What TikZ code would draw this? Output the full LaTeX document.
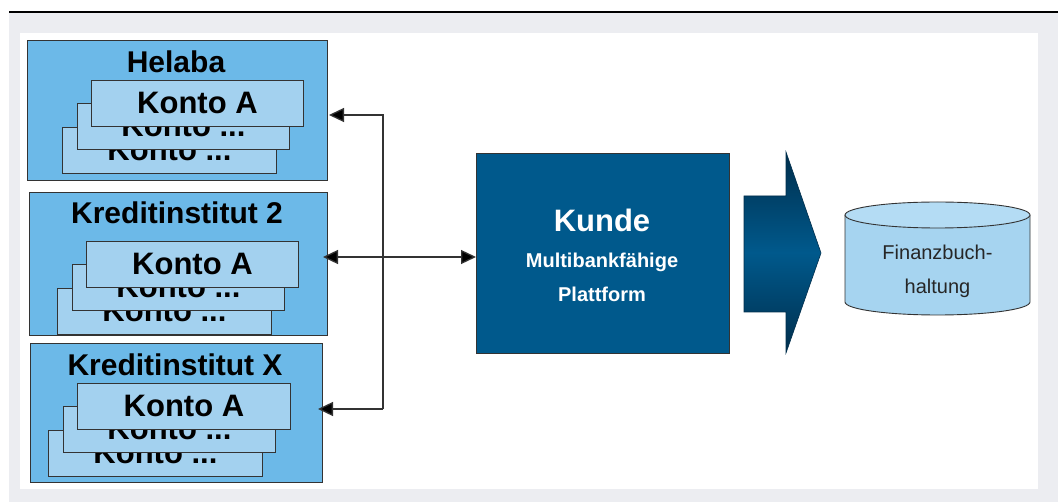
\documentclass[tikz,border=0pt]{standalone}
\usepackage{fontspec}
\setmainfont{Liberation Sans}
\usetikzlibrary{arrows.meta,shapes.geometric}
\definecolor{bggray}{HTML}{ECEDF1}
\definecolor{outerblue}{HTML}{6CB9E8}
\definecolor{kontoblue}{HTML}{A3D1EF}
\definecolor{kundeblue}{HTML}{00598C}
\definecolor{cylblue}{HTML}{A6D4F0}
\definecolor{cyltop}{HTML}{B4DCF4}
\definecolor{edge}{HTML}{333333}
\definecolor{linegray}{HTML}{333333}
\definecolor{arrowdark}{HTML}{002E4C}
\tikzset{
  bankbox/.style={draw=edge, line width=0.9pt, fill=outerblue},
  kontobox/.style={draw=edge, line width=0.9pt, fill=kontoblue, font=\bfseries\fontsize{31}{32}\selectfont, inner sep=0pt},
  banktitle/.style={font=\bfseries\fontsize{30}{32}\selectfont, inner sep=0pt},
  conn/.style={draw=linegray, line width=1.3pt},
  tipend/.style={-{Triangle[length=15pt,width=14pt,fill=black]}},
}
\newcommand{\kontostack}[4]{% prefix, x of front left, y of front top, width
  \node[kontobox, minimum width=214pt, minimum height=46pt, anchor=north west] (#1k3) at (#2-29,#3+47) {\raisebox{-16pt}{Konto ...}};
  \node[kontobox, minimum width=212pt, minimum height=46pt, anchor=north west] (#1k2) at (#2-14,#3+23) {\raisebox{-16pt}{Konto ...}};
  \node[kontobox, minimum width=#4pt, minimum height=46pt, anchor=north west] (#1k1) at (#2,#3) {Konto A};
}
\begin{document}
\begin{tikzpicture}[x=1pt,y=-1pt]
\useasboundingbox (0,0) rectangle (1058,502);
% background frame
\fill[bggray] (9,13) rectangle (1058,502);
\fill[white] (20,33) rectangle (1038,489);
\draw[black, line width=1.2pt] (9,12) -- (1058,12);

% Helaba
\node[bankbox, minimum width=300pt, minimum height=140pt, anchor=north west, inner sep=0pt] (b1) at (27,40) {};
\node[banktitle] (t1) at (176,62) {Helaba};
\begin{scope}
\clip (27,40) rectangle (327,180);
\kontostack{a}{91}{80}{212}
\end{scope}

% Kreditinstitut 2
\node[bankbox, minimum width=298pt, minimum height=143pt, anchor=north west, inner sep=0pt] (b2) at (29,192) {};
\node[banktitle] (t2) at (177,213) {Kreditinstitut 2};
\begin{scope}
\clip (29,192) rectangle (327,335);
\kontostack{b}{86}{241}{212}
\end{scope}

% Kreditinstitut X
\node[bankbox, minimum width=292pt, minimum height=139pt, anchor=north west, inner sep=0pt] (b3) at (30,343) {};
\node[banktitle] (t3) at (175,365) {Kreditinstitut X};
\begin{scope}
\clip (30,343) rectangle (322,482);
\kontostack{c}{77}{383}{213}
\end{scope}

% Kunde
\node[draw=edge, line width=0.9pt, fill=kundeblue, minimum width=253pt, minimum height=200pt, anchor=north west, inner sep=0pt] (kunde) at (476,153) {};
\node[text=white, font=\bfseries\fontsize{31}{32}\selectfont, inner sep=0pt] (kt) at (602,220) {Kunde};
\node[text=white, font=\bfseries\fontsize{20}{22}\selectfont, inner sep=0pt, align=center] (ks) at (602,277) {Multibankfähige\\[12pt]Plattform};

% connectors
\coordinate (j1) at (383,115);
\coordinate (j2) at (383,257);
\coordinate (j3) at (383,409);
\coordinate (e1) at (329,115);
\coordinate (e2) at (323,257);
\coordinate (e3) at (318,409);
\draw[conn, tipend] (j3) -- (j1) -- (e1);
\draw[conn, tipend] (j3) -- (e3);
\draw[conn, {Triangle[length=15pt,width=14pt,fill=black]}-{Triangle[length=15pt,width=14pt,fill=black]}] (e2) -- (kunde.west |- e2);

% big arrow
\shade[top color=arrowdark, bottom color=arrowdark, middle color=kundeblue, draw=arrowdark, line width=0.6pt]
  (744,196) -- (786,196) -- (786,152) -- (821,253) -- (786,353) -- (786,312) -- (744,312) -- cycle;

% cylinder
\fill[cylblue] (845,215) -- (845,302) arc[start angle=180, end angle=360, x radius=92.5pt, y radius=13pt] -- (1030,215) -- cycle;
\draw[edge, line width=0.9pt] (845,215) -- (845,302) arc[start angle=180, end angle=360, x radius=92.5pt, y radius=13pt] -- (1030,215);
\draw[edge, line width=0.9pt, fill=cyltop] (937.5,215) ellipse[x radius=92.5pt, y radius=13pt];
\node[font=\fontsize{20}{22}\selectfont, inner sep=0pt, align=center, text=black!85] (fb) at (937.5,271) {Finanzbuch-\\[12pt]haltung};
\end{tikzpicture}
\end{document}
